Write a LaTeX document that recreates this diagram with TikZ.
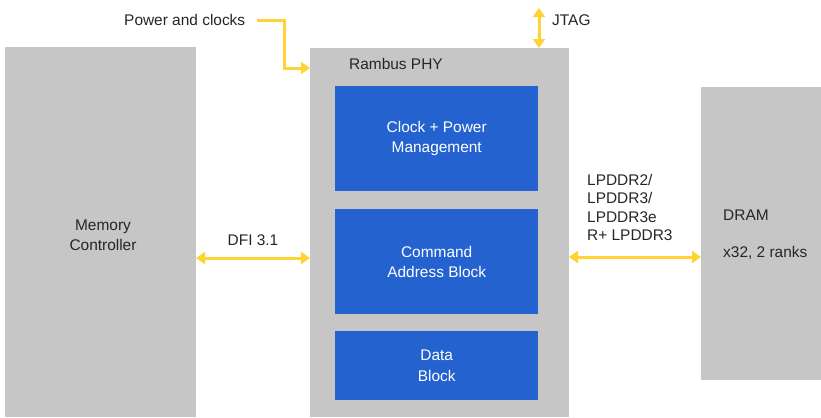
\documentclass[tikz,border=0pt]{standalone}
\usepackage{fontspec}
\setmainfont{Liberation Sans}
\usetikzlibrary{arrows.meta}
\definecolor{boxgray}{HTML}{C6C6C6}
\definecolor{blockblue}{HTML}{2462D0}
\definecolor{wireyellow}{HTML}{FFD333}
\begin{document}
\begin{tikzpicture}[x=1bp,y=-1bp,
  graybox/.style={fill=boxgray,draw=none},
  bluebox/.style={fill=blockblue,draw=none,text=white,align=center,font=\fontsize{15.5}{18.5}\selectfont},
  lbl/.style={font=\fontsize{15.5}{18.5}\selectfont,text=black!85,inner sep=0pt},
  wire/.style={draw=wireyellow,line width=3bp},
  tip/.style={-{Triangle[width=12bp,length=9bp]}},
  tips/.style={{Triangle[width=12bp,length=9bp]}-{Triangle[width=12bp,length=9bp]}}]
\useasboundingbox (0,0) rectangle (821,417);
% boxes
\path[graybox] (5,47) rectangle (196,417);
\coordinate (mcR) at (196,258);
\path[graybox] (310,48) rectangle (569,417);
\coordinate (phyL) at (310,258);
\coordinate (phyR) at (569,257);
\coordinate (phyT) at (539,48);
\coordinate (phyPw) at (310,68);
\path[graybox] (701,87) rectangle (821,380);
\coordinate (dramL) at (701,257);
\node[lbl,align=center] (mc) at (103,235) {Memory\\[2pt]Controller};
\node[lbl,anchor=west] (phy) at (349,64) {Rambus PHY};
\node[lbl,anchor=west] (dram) at (723,215) {DRAM};
\node[lbl,anchor=west] (ranks) at (723,253) {x32, 2 ranks};
% blue blocks
\node[bluebox,minimum width=203bp,minimum height=105bp,anchor=north west] (clk) at (335,86) {Clock + Power\\[2pt]Management};
\node[bluebox,minimum width=203bp,minimum height=105bp,anchor=north west] (cmd) at (335,209) {Command\\[2pt]Address Block};
\node[bluebox,minimum width=203bp,minimum height=69bp,anchor=north west] (data) at (335,331) {Data\\[2pt]Block};
% labels
\node[lbl,anchor=west] (pwr) at (124,20) {Power and clocks};
\node[lbl,anchor=west] (jtag) at (552,20) {JTAG};
\coordinate (jtagTop) at (539,8);
\node[lbl] (dfi) at (253,240) {DFI 3.1};
\node[lbl,anchor=north west,align=left] (lp) at (587,174) {LPDDR2/\\[0pt]LPDDR3/\\[0pt]LPDDR3e\\[0pt]R+ LPDDR3};
% connectors
\draw[wire,tip] (pwr.east) ++(12,0) -| (284,68) -- (phyPw);
\draw[wire,tips] (jtagTop) -- (phyT);
\draw[wire,tips] (mcR) -- (phyL);
\draw[wire,tips] (phyR) -- (dramL);
\end{tikzpicture}
\end{document}
